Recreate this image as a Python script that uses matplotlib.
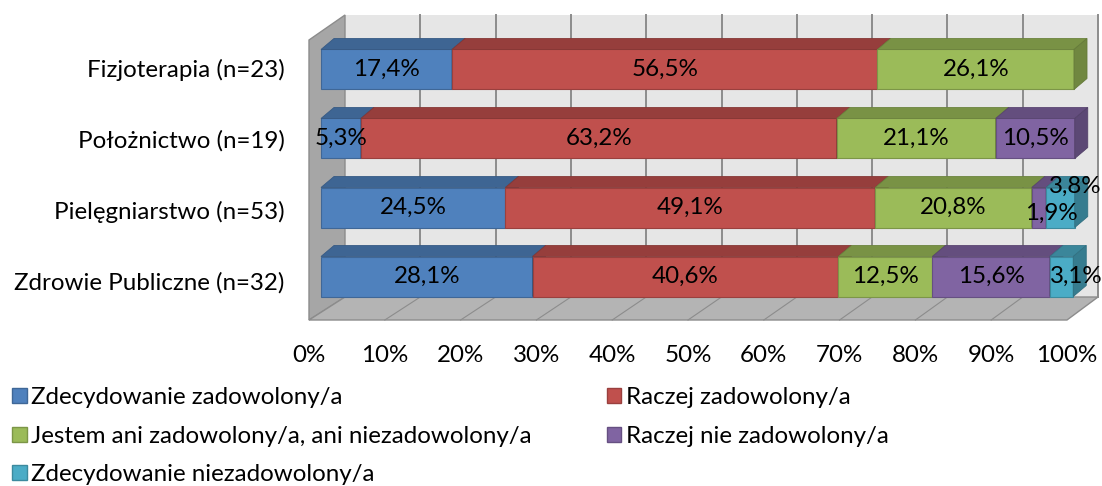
import matplotlib.pyplot as plt
from matplotlib.patches import Polygon, Patch
from matplotlib.colors import to_rgb

plt.rcParams['font.family'] = ['Lato', 'DejaVu Sans']

kategorie = ['Fizjoterapia (n=23)', 'Położnictwo (n=19)',
             'Pielęgniarstwo (n=53)', 'Zdrowie Publiczne (n=32)']
odpowiedzi = ['Zdecydowanie zadowolony/a', 'Raczej zadowolony/a',
              'Jestem ani zadowolony/a, ani niezadowolony/a',
              'Raczej nie zadowolony/a', 'Zdecydowanie niezadowolony/a']
zdecydowanie_zad = [17.4, 5.3, 24.5, 28.1]
raczej_zad = [56.5, 63.2, 49.1, 40.6]
ani_ani = [26.1, 21.1, 20.8, 12.5]
raczej_nie = [0, 10.5, 1.9, 15.6]
zdecydowanie_nie = [0, 0, 3.8, 3.1]
serie = [zdecydowanie_zad, raczej_zad, ani_ani, raczej_nie, zdecydowanie_nie]
kolory = ['#4F81BD', '#C0504D', '#9BBB59', '#8064A2', '#4BACC6']
ticki = list(range(0, 101, 10))

# przesuniecia etykiet ktore w oryginale sie nakladaja (kategoria, seria) -> (dx %, dy)
przesuniecia = {(2, 3): (1.6, 0.08), (2, 4): (1.9, -0.3), (3, 4): (1.9, 0.0)}

FS = 17.4


def ciemniej(c, f):
    r, g, b = to_rgb(c)
    return (r * f, g * f, b * f)


PX = 7.53   # px na 1%
PY = 69.0   # px na kategorie
W, H = 1102, 486

fig = plt.figure(figsize=(W / 100, H / 100), dpi=100)
ax = fig.add_axes([0, 0, 1, 1])
ax.set_xlim(-321 / PX, (W - 321) / PX)
ax.set_ylim((H - 69.5) / PY, -69.5 / PY)
ax.axis('off')

# geometria "3D"
h = 40 / PY
dx, dy = 13 / PX, -11 / PY
bx, fx = 24 / PX, -12 / PX
y_top = (15 - 69.5) / PY
y_side_top = (40 - 69.5) / PY
y_fb = (297 - 69.5) / PY
y_ff = (320 - 69.5) / PY
sk = 758 / 753

# sciana tylna
ax.add_patch(Polygon([(bx, y_top), (bx + 100, y_top), (bx + 100, y_fb), (bx, y_fb)],
                     closed=True, facecolor='#E6E6E6', edgecolor='none', zorder=1))
for t in ticki[1:]:
    ax.plot([bx + t, bx + t], [y_top, y_fb], color='#8C8C8C', lw=1.4, zorder=1.1)
# sciana boczna
ax.add_patch(Polygon([(fx, y_side_top), (bx, y_top), (bx, y_fb), (fx, y_ff)],
                     closed=True, facecolor='#A6A6A6', edgecolor='#8C8C8C', lw=1, zorder=1.2))
# podloga
ax.add_patch(Polygon([(fx, y_ff), (bx, y_fb), (bx + 100, y_fb), (fx + 100 * sk, y_ff)],
                     closed=True, facecolor='#B4B4B4', edgecolor='#8C8C8C', lw=1, zorder=1.2))
for t in ticki[1:-1]:
    ax.plot([fx + t * sk, bx + t], [y_ff, y_fb], color='#8C8C8C', lw=0.8, zorder=1.3)

# slupki
for i, kat in enumerate(kategorie):
    lewo = 0
    y0, y1 = i - h / 2, i + h / 2
    for k, wart in enumerate(serie):
        w = wart[i]
        if w == 0:
            continue
        c = kolory[k]
        ax.barh(i, w, left=lewo, height=h, color=c, edgecolor=ciemniej(c, 0.8), lw=0.8, zorder=3)
        ax.add_patch(Polygon([(lewo, y0), (lewo + dx, y0 + dy), (lewo + w + dx, y0 + dy), (lewo + w, y0)],
                             closed=True, facecolor=ciemniej(c, 0.78), edgecolor=ciemniej(c, 0.7),
                             lw=0.6, zorder=3))
        ax.add_patch(Polygon([(lewo + w, y0), (lewo + w + dx, y0 + dy), (lewo + w + dx, y1 + dy), (lewo + w, y1)],
                             closed=True, facecolor=ciemniej(c, 0.72), edgecolor=ciemniej(c, 0.65),
                             lw=0.6, zorder=3))
        ox, oy = przesuniecia.get((i, k), (0, 0))
        ax.text(lewo + w / 2 + ox, i + oy, f'{w:.1f}'.replace('.', ',') + '%',
                ha='center', va='center', fontsize=FS, zorder=5)
        lewo += w
    ax.text(-4.8, i * 1.03, kat, ha='right', va='center', fontsize=FS)

for t in ticki:
    ax.text(fx + t * sk, (355 - 69.5) / PY, f'{t}%', ha='center', va='center', fontsize=FS)

uchwyty = [Patch(facecolor=c, edgecolor=ciemniej(c, 0.8)) for c in kolory]
kolejnosc = [0, 2, 4, 1, 3]
fig.legend([uchwyty[j] for j in kolejnosc], [odpowiedzi[j] for j in kolejnosc],
           ncol=2, loc='upper left', bbox_to_anchor=(0.011, 0.203), frameon=False,
           fontsize=FS, handlelength=0.6, handleheight=0.6, handletextpad=0.2,
           columnspacing=3.1, labelspacing=0.72, borderaxespad=0, borderpad=0)

fig.savefig('out.png', dpi=100)
